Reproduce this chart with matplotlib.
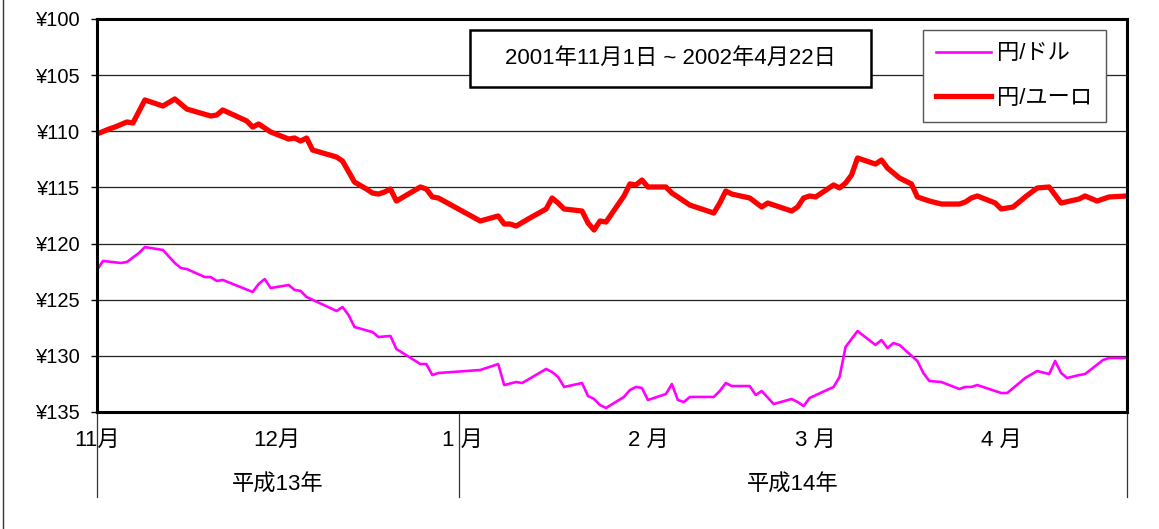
import matplotlib.pyplot as plt
from matplotlib.patches import Rectangle
from matplotlib.lines import Line2D
import pandas as pd

plt.rcParams['font.family'] = ['Liberation Sans', 'Noto Sans CJK JP', 'DejaVu Sans']

# 円/ドル (読み取り値)
usd_dates = [
    "2001-11-01", "2001-11-02", "2001-11-05", "2001-11-06", "2001-11-08", "2001-11-09",
    "2001-11-12", "2001-11-14", "2001-11-15", "2001-11-16", "2001-11-19", "2001-11-20",
    "2001-11-21", "2001-11-22", "2001-11-27", "2001-11-28", "2001-11-29", "2001-11-30",
    "2001-12-03", "2001-12-04", "2001-12-05", "2001-12-06", "2001-12-11", "2001-12-12",
    "2001-12-13", "2001-12-14", "2001-12-17", "2001-12-18", "2001-12-20", "2001-12-21",
    "2001-12-25", "2001-12-26", "2001-12-27", "2001-12-28", "2002-01-04", "2002-01-07",
    "2002-01-08", "2002-01-10", "2002-01-11", "2002-01-15", "2002-01-16", "2002-01-17",
    "2002-01-18", "2002-01-21", "2002-01-22", "2002-01-23", "2002-01-24", "2002-01-25",
    "2002-01-28", "2002-01-29", "2002-01-30", "2002-01-31", "2002-02-01", "2002-02-04",
    "2002-02-05", "2002-02-06", "2002-02-07", "2002-02-08", "2002-02-12", "2002-02-13",
    "2002-02-14", "2002-02-15", "2002-02-18", "2002-02-19", "2002-02-20", "2002-02-22",
    "2002-02-25", "2002-02-26", "2002-02-27", "2002-02-28", "2002-03-04", "2002-03-05",
    "2002-03-06", "2002-03-08", "2002-03-11", "2002-03-12", "2002-03-13", "2002-03-14",
    "2002-03-15", "2002-03-18", "2002-03-19", "2002-03-20", "2002-03-22", "2002-03-25",
    "2002-03-26", "2002-03-27", "2002-03-28", "2002-04-01", "2002-04-02", "2002-04-04",
    "2002-04-05", "2002-04-07", "2002-04-09", "2002-04-10", "2002-04-11", "2002-04-12",
    "2002-04-14", "2002-04-15", "2002-04-18", "2002-04-19", "2002-04-22",
]
usd_values = [
    122.35, 121.55, 121.73, 121.64, 120.84, 120.31, 120.57, 121.73, 122.18, 122.27,
    122.98, 122.98, 123.33, 123.24, 124.31, 123.60, 123.16, 123.96, 123.69, 124.13,
    124.22, 124.76, 126.00, 125.65, 126.36, 127.43, 127.88, 128.32, 128.23, 129.39,
    130.73, 130.73, 131.71, 131.53, 131.26, 130.73, 132.60, 132.33, 132.42, 131.17,
    131.44, 131.88, 132.77, 132.42, 133.58, 133.84, 134.38, 134.64, 133.66, 133.04,
    132.77, 132.86, 133.93, 133.40, 132.51, 133.93, 134.11, 133.66, 133.66, 133.13,
    132.42, 132.69, 132.69, 133.49, 133.13, 134.29, 133.84, 134.11, 134.47, 133.75,
    132.77, 131.88, 129.21, 127.79, 129.03, 128.59, 129.30, 128.86, 129.03, 130.46,
    131.53, 132.24, 132.33, 132.95, 132.77, 132.77, 132.60, 133.31, 133.31, 132.42,
    131.97, 131.35, 131.62, 130.46, 131.53, 131.97, 131.71, 131.62, 130.37, 130.19,
    130.19,
]

# 円/ユーロ (読み取り値)
eur_dates = [
    "2001-11-01", "2001-11-03", "2001-11-04", "2001-11-06", "2001-11-07", "2001-11-09",
    "2001-11-12", "2001-11-14", "2001-11-16", "2001-11-20", "2001-11-21", "2001-11-22",
    "2001-11-26", "2001-11-27", "2001-11-28", "2001-11-30", "2001-12-03", "2001-12-04",
    "2001-12-05", "2001-12-06", "2001-12-07", "2001-12-11", "2001-12-12", "2001-12-14",
    "2001-12-16", "2001-12-17", "2001-12-18", "2001-12-19", "2001-12-20", "2001-12-21",
    "2001-12-25", "2001-12-26", "2001-12-27", "2001-12-28", "2002-01-04", "2002-01-07",
    "2002-01-08", "2002-01-09", "2002-01-10", "2002-01-12", "2002-01-15", "2002-01-16",
    "2002-01-17", "2002-01-18", "2002-01-21", "2002-01-22", "2002-01-23", "2002-01-24",
    "2002-01-25", "2002-01-28", "2002-01-29", "2002-01-30", "2002-01-31", "2002-02-01",
    "2002-02-04", "2002-02-05", "2002-02-06", "2002-02-08", "2002-02-12", "2002-02-13",
    "2002-02-14", "2002-02-15", "2002-02-18", "2002-02-20", "2002-02-21", "2002-02-25",
    "2002-02-26", "2002-02-27", "2002-02-28", "2002-03-01", "2002-03-04", "2002-03-05",
    "2002-03-06", "2002-03-07", "2002-03-08", "2002-03-11", "2002-03-12", "2002-03-13",
    "2002-03-15", "2002-03-17", "2002-03-18", "2002-03-20", "2002-03-22", "2002-03-25",
    "2002-03-26", "2002-03-27", "2002-03-28", "2002-03-31", "2002-04-01", "2002-04-03",
    "2002-04-05", "2002-04-07", "2002-04-09", "2002-04-11", "2002-04-14", "2002-04-15",
    "2002-04-17", "2002-04-18", "2002-04-19", "2002-04-22",
]
eur_values = [
    110.24, 109.80, 109.62, 109.17, 109.26, 107.21, 107.75, 107.12, 108.02, 108.64,
    108.55, 108.10, 109.08, 109.62, 109.35, 110.06, 110.69, 110.60, 110.87, 110.60,
    111.67, 112.29, 112.65, 114.52, 115.14, 115.50, 115.59, 115.41, 115.14, 116.21,
    114.96, 115.14, 115.85, 115.94, 117.99, 117.54, 118.26, 118.26, 118.44, 117.81,
    116.92, 115.94, 116.39, 116.92, 117.10, 118.17, 118.79, 117.99, 118.08, 115.76,
    114.69, 114.78, 114.34, 114.96, 114.96, 115.50, 115.85, 116.57, 117.28, 116.39,
    115.32, 115.59, 115.94, 116.74, 116.39, 117.10, 116.74, 115.94, 115.76, 115.85,
    114.78, 115.05, 114.61, 113.90, 112.38, 112.92, 112.56, 113.27, 114.16, 114.69,
    115.85, 116.21, 116.48, 116.48, 116.30, 115.94, 115.76, 116.39, 116.92, 116.74,
    115.85, 115.05, 114.96, 116.39, 116.03, 115.76, 116.21, 116.03, 115.85, 115.76,
]

y_ticks = [100, 105, 110, 115, 120, 125, 130, 135]
month_starts = ["2001-11-01", "2001-12-01", "2002-01-01", "2002-02-01", "2002-03-01", "2002-04-01"]
month_labels = ["11月", "12月", "1 月", "2 月", "3 月", "4 月"]
era_labels = ["平成13年", "平成14年"]
era_bounds = ["2001-11-01 00:00", "2001-12-31 12:00", "2002-04-22 00:00"]
period_text = "2001年11月1日 ~ 2002年4月22日"

W, H = 1159, 529
fig = plt.figure(figsize=(W / 100, H / 100), dpi=100)
ax = fig.add_axes([97 / W, 1 - 412 / H, 1030 / W, 393 / H])

ax.plot(pd.to_datetime(usd_dates), usd_values, color='#FF00FF', lw=1.9, label='円/ドル')
ax.plot(pd.to_datetime(eur_dates), eur_values, color='#FF0000', lw=3.8, label='円/ユーロ')

bounds = pd.to_datetime(era_bounds, format='%Y-%m-%d %H:%M')

ax.set_ylim(135, 100)
ax.set_yticks(y_ticks)
ax.set_yticklabels([f'¥{v}' for v in y_ticks])
ax.set_xlim(bounds[0], bounds[-1])
ax.set_xticks(pd.to_datetime(month_starts))
ax.set_xticklabels(month_labels)
ax.tick_params(axis='x', length=0, pad=13, labelsize=16)
ax.tick_params(axis='y', length=4, width=1, pad=8, labelsize=14.5)
ax.grid(axis='y', color='#222222', lw=0.9)
ax.set_axisbelow(True)
for s in ax.spines.values():
    s.set_linewidth(2.2)

# 年の区切り線と年ラベル
for b in bounds:
    ax.axvline(b, ymin=-85 / 393, ymax=0, color='#333333', lw=0.9, clip_on=False)
for i, lab in enumerate(era_labels):
    mid = bounds[i] + (bounds[i + 1] - bounds[i]) / 2
    ax.text(mid, -73 / 393, lab, transform=ax.get_xaxis_transform(),
            ha='center', va='center', fontsize=16)

leg = ax.legend(loc='upper left', bbox_to_anchor=(923 / W, 1 - 30 / H),
                bbox_transform=fig.transFigure, borderaxespad=0, fancybox=False,
                edgecolor='#555555', framealpha=1, fontsize=16, labelspacing=1.05,
                handlelength=2.45, handletextpad=0.3, borderpad=0.6)
leg.get_frame().set_linewidth(1)

# 期間ボックス
fig.add_artist(Rectangle((470 / W, 1 - 87 / H), 401 / W, 57 / H, transform=fig.transFigure,
                         facecolor='white', edgecolor='black', lw=1.8))
fig.text(670 / W, 1 - 58.5 / H, period_text, ha='center', va='center', fontsize=16)

# 外枠 (左端)
fig.add_artist(Line2D([3 / W, 3 / W], [0, 1], transform=fig.transFigure, color='#333333', lw=1))

fig.savefig('out.png', dpi=100)
